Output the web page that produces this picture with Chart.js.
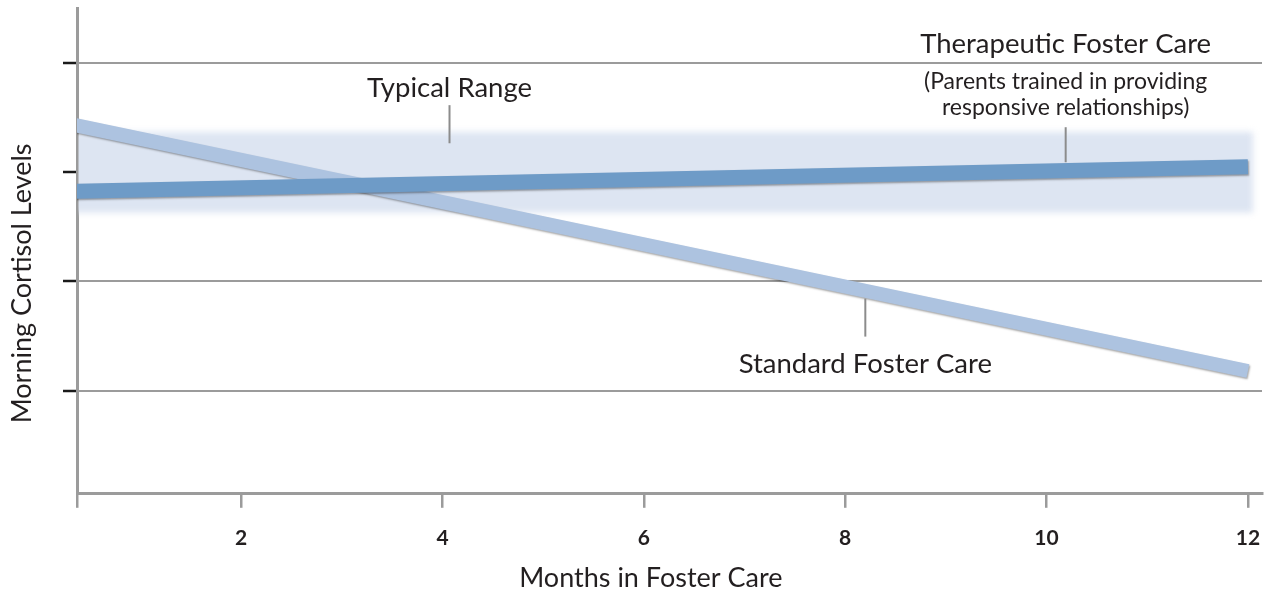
<!DOCTYPE html>
<html>
<head>
<meta charset="utf-8">
<script src="https://cdn.jsdelivr.net/npm/chart.js@4"></script>
<style>
  html, body { margin: 0; padding: 0; background: #fff; }
  #wrap { width: 1266px; height: 592px; }
</style>
</head>
<body>
<div id="wrap"><canvas id="cortisolChart"></canvas></div>
<script>
// data
const months = [0, 12];
const standardCare = [3.5, 1.18];
const therapeuticCare = [2.82, 3.05];
const typicalRange = [2.63, 3.37];   // low, high
const xTicks = [2, 4, 6, 8, 10, 12];
const yTicks = [1, 2, 3, 4];
const xMin = 0.37, xMax = 12.14;
const yMin = 0.055, yMax = 4.505;

const FONT = 'Lato, "Open Sans", sans-serif';
const TEXT = '#231f20';
const GRID = '#9b9b9b';

const toPoints = (ys) => months.map((m, i) => ({ x: m, y: ys[i] }));

const notes = {
  id: 'notes',
  beforeDatasetsDraw(chart) {
    const { ctx, chartArea, scales: { x, y } } = chart;
    const top = y.getPixelForValue(typicalRange[1]);
    const bottom = y.getPixelForValue(typicalRange[0]);
    const right = x.getPixelForValue(12.05);
    ctx.save();
    ctx.beginPath();
    ctx.rect(chartArea.left + 1.5, 0, chart.width, chart.height);
    ctx.clip();
    ctx.filter = 'blur(3px)';
    ctx.fillStyle = '#dde5f2';
    ctx.fillRect(chartArea.left - 20, top, right - chartArea.left + 20, bottom - top);
    ctx.restore();
  },
  beforeDatasetDraw(chart) {
    const ctx = chart.ctx;
    ctx.save();
    ctx.shadowColor = 'rgba(0,0,0,0.35)';
    ctx.shadowBlur = 2;
    ctx.shadowOffsetX = 1;
    ctx.shadowOffsetY = 1.5;
  },
  afterDatasetDraw(chart) {
    chart.ctx.restore();
  },
  afterDraw(chart) {
    const { ctx, scales: { x, y } } = chart;
    ctx.save();
    // leader lines
    ctx.strokeStyle = '#8c8c8c';
    ctx.lineWidth = 2;
    [[4.07, 3.615, 3.266], [10.19, 3.413, 3.092], [8.2, 1.844, 1.495]].forEach(([m, a, b]) => {
      const px = x.getPixelForValue(m);
      ctx.beginPath();
      ctx.moveTo(px, y.getPixelForValue(a));
      ctx.lineTo(px, y.getPixelForValue(b));
      ctx.stroke();
    });
    // labels
    ctx.fillStyle = TEXT;
    ctx.textAlign = 'center';
    ctx.textBaseline = 'alphabetic';
    [
      ['Typical Range', 4.07, 3.688, 27.5],
      ['Therapeutic Foster Care', 10.19, 4.092, 27.5],
      ['(Parents trained in providing', 10.19, 3.761, 23],
      ['responsive relationships)', 10.19, 3.523, 23],
      ['Standard Foster Care', 8.2, 1.165, 27.5]
    ].forEach(([t, m, v, s]) => {
      ctx.font = s + 'px ' + FONT;
      ctx.fillText(t, x.getPixelForValue(m), y.getPixelForValue(v));
    });
    // axis titles
    ctx.font = '27px ' + FONT;
    ctx.textBaseline = 'middle';
    ctx.fillText('Months in Foster Care', x.getPixelForValue(6.07), 578);
    ctx.translate(22, y.getPixelForValue(1.982));
    ctx.rotate(-Math.PI / 2);
    ctx.fillText('Morning Cortisol Levels', 0, 0);
    ctx.restore();
  }
};

new Chart(document.getElementById('cortisolChart'), {
  type: 'line',
  data: {
    datasets: [
      {
        label: 'Therapeutic Foster Care',
        data: toPoints(therapeuticCare),
        borderColor: '#6e9bc7',
        borderWidth: 15,
        borderCapStyle: 'butt',
        pointRadius: 0
      },
      {
        label: 'Standard Foster Care',
        data: toPoints(standardCare),
        borderColor: '#adc3e0',
        borderWidth: 14,
        borderCapStyle: 'butt',
        pointRadius: 0
      }
    ]
  },
  options: {
    responsive: true,
    maintainAspectRatio: false,
    animation: false,
    layout: { padding: { left: 63, top: 8, right: 4, bottom: 23 } },
    plugins: {
      legend: { display: false },
      tooltip: { enabled: false }
    },
    scales: {
      x: {
        type: 'linear',
        min: xMin,
        max: xMax,
        afterBuildTicks: (s) => { s.ticks = [xMin, ...xTicks].map(v => ({ value: v })); },
        afterFit: (s) => { s.paddingRight = 0; s.paddingLeft = 0; },
        ticks: {
          padding: 18,
          color: TEXT,
          font: { family: FONT, size: 21, weight: 'bold', lineHeight: 1.2 },
          callback: (v) => xTicks.includes(v) ? String(v) : ''
        },
        grid: { drawOnChartArea: false, tickLength: 14, color: GRID, lineWidth: 2.5 },
        border: { color: GRID, width: 3 }
      },
      y: {
        min: yMin,
        max: yMax,
        afterBuildTicks: (s) => { s.ticks = yTicks.map(v => ({ value: v })); },
        ticks: { display: false },
        grid: {
          tickLength: 14,
          lineWidth: 2,
          tickWidth: 2.5,
          color: (c) => c.tick && c.tick.value === 3 ? 'rgba(0,0,0,0)' : GRID,
          tickColor: '#1a1a1a'
        },
        border: { color: GRID, width: 3 }
      }
    }
  },
  plugins: [notes]
});
</script>
</body>
</html>
